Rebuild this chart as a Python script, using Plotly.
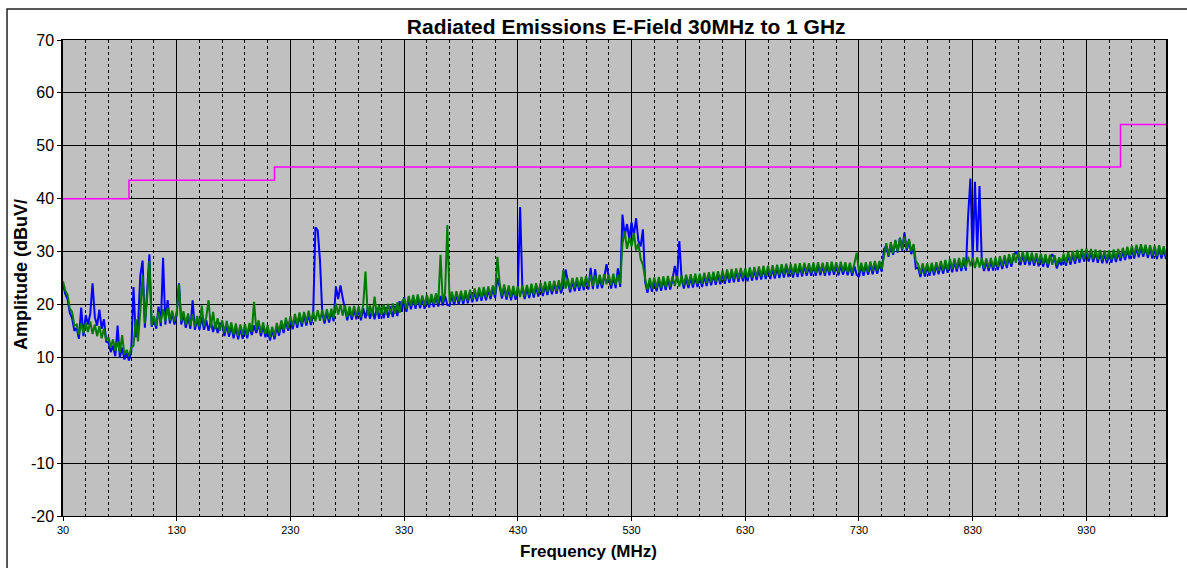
import plotly.graph_objects as go

# Sample grid (MHz), 2 MHz spacing
freq = list(range(30, 1001, 2))

# Green trace (dBuV/m)
green = [
    24.4, 22.6, 21.8, 19.2, 18.6, 16.0, 16.2, 14.3, 16.4, 14.6,
    16.5, 14.8, 16.8, 14.4, 16.2, 14.0, 15.9, 13.6, 15.4, 13.2,
    13.8, 11.9, 13.4, 11.2, 13.0, 10.9, 14.2, 10.5, 11.4, 10.2,
    11.8, 12.2, 17.2, 13.0, 18.8, 25.5, 16.4, 21.2, 28.2, 16.0,
    17.8, 16.0, 18.6, 16.6, 19.1, 16.8, 19.4, 17.0, 18.8, 16.8,
    18.6, 23.8, 16.8, 18.7, 16.2, 18.3, 16.0, 18.1, 15.8, 17.8,
    15.8, 19.8, 15.9, 17.6, 20.8, 15.6, 18.6, 15.3, 17.4, 15.0,
    17.0, 14.7, 16.9, 14.6, 16.6, 14.3, 16.4, 14.1, 16.2, 14.2,
    16.3, 14.2, 16.5, 14.8, 20.5, 15.2, 17.0, 14.6, 16.6, 14.4,
    16.1, 13.8, 15.8, 14.0, 16.5, 14.7, 17.0, 15.2, 17.5, 15.6,
    17.8, 15.9, 18.2, 16.2, 18.5, 16.4, 18.6, 16.6, 18.8, 16.7,
    18.6, 16.8, 18.9, 16.9, 19.0, 17.0, 19.1, 17.2, 19.2, 17.4,
    20.2, 18.1, 20.0, 17.9, 19.8, 17.6, 19.6, 17.7, 19.7, 17.8,
    19.6, 17.6, 19.9, 26.2, 17.9, 19.8, 17.8, 21.5, 18.0, 19.9,
    18.0, 20.0, 18.1, 20.1, 18.2, 20.2, 18.3, 20.4, 18.4, 20.5,
    21.1, 19.2, 21.6, 19.7, 21.8, 19.8, 21.9, 19.9, 21.7, 19.8,
    21.8, 20.0, 22.0, 20.1, 22.1, 20.2, 29.4, 20.4, 22.2, 35.0,
    20.4, 22.4, 20.5, 22.5, 20.6, 22.6, 20.7, 22.7, 20.8, 22.8,
    21.0, 23.0, 21.2, 23.2, 21.3, 23.3, 21.4, 23.4, 21.6, 23.6,
    21.8, 29.0, 24.0, 21.7, 23.8, 21.5, 23.6, 21.4, 23.5, 21.5,
    23.4, 21.4, 23.6, 21.6, 23.7, 21.8, 23.9, 21.9, 24.0, 22.1,
    24.1, 22.2, 24.3, 22.4, 24.4, 22.5, 24.5, 22.6, 24.6, 22.7,
    26.5, 23.0, 24.9, 22.9, 25.0, 23.1, 25.1, 23.2, 25.2, 23.3,
    25.4, 23.4, 25.6, 23.5, 25.5, 23.6, 25.6, 23.7, 25.7, 23.8,
    25.6, 23.6, 25.8, 23.7, 25.6, 23.9, 31.5, 33.8, 30.5, 32.6,
    31.0, 33.5, 30.2, 31.5, 28.6, 27.5, 24.8, 22.8, 25.0, 23.0,
    25.1, 23.1, 25.2, 23.2, 25.3, 23.3, 25.4, 23.4, 25.3, 23.5,
    25.4, 23.4, 25.5, 23.6, 25.6, 23.7, 25.7, 23.8, 25.8, 23.9,
    25.8, 23.9, 26.0, 24.1, 26.1, 24.2, 26.2, 24.3, 26.3, 24.4,
    26.4, 24.5, 26.6, 24.7, 26.7, 24.8, 26.8, 24.9, 26.9, 25.0,
    26.8, 25.0, 27.0, 25.1, 27.1, 25.2, 27.2, 25.3, 27.3, 25.4,
    27.3, 25.4, 27.4, 25.5, 27.5, 25.6, 27.6, 25.7, 27.7, 25.8,
    27.6, 25.7, 27.7, 25.8, 27.8, 25.9, 27.9, 26.0, 27.8, 26.0,
    27.9, 26.0, 28.0, 26.1, 27.9, 26.0, 28.0, 26.1, 28.1, 26.2,
    28.0, 26.1, 28.1, 26.2, 28.0, 26.1, 27.9, 26.0, 27.8, 29.8,
    26.0, 27.9, 26.1, 28.0, 26.2, 28.1, 26.3, 28.2, 26.4, 28.2,
    26.7, 29.5, 31.6, 29.2, 31.8, 29.6, 32.2, 30.0, 32.6, 30.4,
    32.8, 30.6, 32.4, 30.0, 31.4, 28.2, 27.6, 25.8, 27.8, 25.9,
    27.8, 26.0, 27.9, 26.1, 28.0, 26.3, 28.2, 26.4, 28.4, 26.6,
    28.6, 26.7, 28.7, 26.8, 28.8, 26.9, 28.9, 27.0, 29.0, 27.2,
    28.8, 26.9, 28.9, 27.0, 28.8, 26.9, 28.7, 26.9, 28.8, 27.0,
    28.9, 27.1, 29.1, 27.3, 29.3, 27.5, 29.5, 27.7, 29.7, 27.9,
    29.9, 28.0, 30.0, 28.1, 29.9, 28.0, 29.8, 27.9, 29.7, 27.8,
    29.6, 27.7, 29.5, 27.6, 29.4, 27.5, 29.3, 27.4, 28.9, 28.0,
    29.6, 27.9, 29.9, 28.1, 30.1, 28.3, 30.3, 28.5, 30.5, 28.7,
    30.6, 28.7, 30.5, 28.6, 30.4, 28.5, 30.3, 28.4, 30.2, 28.4,
    30.2, 28.5, 30.4, 28.6, 30.5, 28.8, 30.7, 29.0, 30.9, 29.2,
    31.1, 29.3, 31.3, 29.5, 31.4, 29.6, 31.3, 29.4, 31.2, 29.3,
    31.1, 29.2, 31.2, 29.3, 31.0, 29.2,
]

# Blue trace (dBuV/m)
blue = [
    23.8, 22.0, 21.0, 18.4, 17.4, 15.0, 15.6, 13.5, 19.4, 14.0,
    18.0, 16.2, 18.3, 24.0, 17.6, 16.0, 19.0, 15.4, 17.2, 13.0,
    12.8, 11.0, 12.2, 10.2, 16.0, 10.0, 11.8, 9.6, 10.8, 9.4,
    11.0, 23.3, 13.8, 16.2, 25.5, 28.3, 15.6, 22.0, 29.5, 15.8,
    17.2, 15.4, 19.6, 15.9, 28.8, 16.2, 20.8, 16.4, 18.4, 16.2,
    18.0, 24.0, 16.2, 18.1, 15.6, 17.7, 15.4, 20.8, 15.2, 17.2,
    15.2, 17.6, 15.2, 17.0, 15.0, 16.8, 14.8, 16.6, 14.6, 16.4,
    16.3, 14.0, 16.2, 13.9, 15.9, 13.6, 15.7, 13.4, 15.5, 13.5,
    15.6, 13.6, 15.9, 14.2, 16.0, 14.6, 16.4, 14.0, 16.0, 13.8,
    15.4, 13.2, 15.1, 13.4, 15.8, 14.1, 16.4, 14.6, 16.9, 15.0,
    17.2, 15.3, 17.6, 15.6, 17.9, 15.8, 18.0, 16.0, 18.2, 16.1,
    18.0, 34.6, 34.0, 28.3, 18.4, 16.4, 18.5, 16.6, 18.6, 16.8,
    23.4, 21.0, 23.6, 21.2, 19.2, 17.0, 19.0, 17.1, 19.1, 17.2,
    19.0, 17.0, 19.3, 17.4, 19.4, 17.3, 19.2, 17.2, 19.4, 17.3,
    19.4, 17.4, 19.5, 17.5, 19.6, 17.6, 19.7, 17.8, 20.6, 18.6,
    21.4, 18.6, 21.0, 19.1, 21.2, 19.2, 21.3, 19.3, 21.1, 19.2,
    21.2, 19.4, 21.4, 19.5, 21.5, 19.6, 21.6, 19.8, 21.6, 19.9,
    19.8, 21.8, 19.9, 21.9, 20.0, 22.0, 20.1, 22.1, 20.2, 22.2,
    20.4, 22.4, 20.6, 22.6, 20.7, 22.7, 20.8, 22.8, 21.0, 23.0,
    21.2, 25.0, 23.4, 21.1, 23.2, 20.9, 23.0, 20.8, 22.9, 20.9,
    22.8, 38.4, 23.0, 21.0, 23.1, 21.2, 23.3, 21.3, 23.4, 21.5,
    23.5, 21.6, 23.7, 21.8, 23.8, 21.9, 23.9, 22.0, 24.0, 22.1,
    23.6, 26.6, 24.3, 22.3, 24.4, 22.5, 24.5, 22.6, 24.6, 22.7,
    24.8, 22.8, 26.9, 22.9, 26.7, 23.0, 25.0, 23.1, 25.1, 27.6,
    25.0, 23.0, 25.2, 23.1, 26.8, 23.3, 37.0, 33.0, 35.2, 32.4,
    35.5, 33.0, 36.3, 32.0, 31.0, 34.2, 24.2, 22.2, 24.4, 22.4,
    24.5, 22.5, 24.6, 22.6, 24.7, 22.7, 24.8, 22.8, 24.7, 27.3,
    24.8, 32.0, 24.9, 23.0, 25.0, 23.1, 25.1, 23.2, 25.2, 23.3,
    25.2, 23.3, 25.4, 23.5, 25.5, 23.6, 25.6, 23.7, 25.7, 23.8,
    25.8, 23.9, 26.0, 24.1, 26.1, 24.2, 26.2, 24.3, 26.3, 24.4,
    26.2, 24.4, 26.4, 24.5, 26.5, 24.6, 26.6, 24.7, 26.7, 24.8,
    26.7, 24.8, 26.8, 24.9, 26.9, 25.0, 27.0, 25.1, 27.1, 25.2,
    27.0, 25.1, 27.1, 25.2, 27.2, 25.3, 27.3, 25.4, 27.2, 25.4,
    27.3, 25.4, 27.4, 25.5, 27.3, 25.4, 27.4, 25.5, 27.5, 25.6,
    27.4, 25.5, 27.5, 25.6, 27.4, 25.5, 27.3, 25.4, 27.2, 25.6,
    25.2, 27.3, 25.4, 27.4, 25.6, 27.5, 25.7, 27.6, 25.8, 27.6,
    26.2, 30.5, 31.0, 29.0, 31.4, 29.4, 32.0, 29.8, 32.6, 30.2,
    33.6, 30.2, 32.0, 29.5, 31.2, 26.8, 27.0, 25.2, 27.2, 25.3,
    27.2, 25.4, 27.3, 25.5, 27.4, 25.7, 27.6, 25.8, 27.8, 26.0,
    28.0, 26.1, 28.1, 26.2, 28.2, 26.3, 28.3, 26.4, 36.8, 43.8,
    28.6, 43.2, 30.0, 42.4, 28.2, 26.3, 28.1, 26.3, 28.2, 26.4,
    28.3, 26.5, 28.5, 26.7, 28.7, 26.9, 28.9, 27.1, 29.1, 30.0,
    29.3, 27.4, 29.4, 27.5, 29.3, 27.4, 29.2, 27.3, 29.1, 27.2,
    29.0, 27.1, 28.9, 27.0, 28.8, 29.5, 28.7, 26.8, 28.3, 27.4,
    29.0, 27.3, 29.3, 27.5, 29.5, 27.7, 29.7, 27.9, 29.9, 28.1,
    30.0, 28.1, 29.9, 28.0, 29.8, 27.9, 29.7, 27.8, 29.6, 27.8,
    29.6, 27.9, 29.8, 28.0, 29.9, 28.2, 30.1, 28.4, 30.3, 28.6,
    30.5, 28.7, 30.7, 28.9, 30.8, 29.0, 30.7, 28.8, 30.6, 28.7,
    30.5, 28.6, 30.6, 28.7, 30.4, 28.6,
]

# Limit line (step)
limit_freq = [30, 88, 216, 960, 1000]
limit_db = [40, 43.5, 46, 54, 54]

x_tick_start = 30
x_tick_step = 100
y_ticks = [-20, -10, 0, 10, 20, 30, 40, 50, 60, 70]
y_tick_labels = ["-20", "-10", "0", "10", "20", "30", "40", "50", "60", "70"]

FONT = "Arial, Liberation Sans, sans-serif"

fig = go.Figure()
fig.add_trace(go.Scatter(x=freq, y=blue, mode="lines",
                         line=dict(color="#0000FF", width=2), name="blue"))
fig.add_trace(go.Scatter(x=freq, y=green, mode="lines",
                         line=dict(color="#007A00", width=2), name="green"))
fig.add_trace(go.Scatter(x=limit_freq, y=limit_db, mode="lines",
                         line=dict(color="#FF00FF", width=1.5, shape="hv"), name="limit"))

fig.update_layout(
    width=1187, height=568,
    margin=dict(l=63, r=21, t=40, b=52),
    paper_bgcolor="white",
    plot_bgcolor="#C0C0C0",
    showlegend=False,
    font=dict(family=FONT, color="black"),
    title=dict(text="<b>Radiated Emissions E-Field 30MHz to 1 GHz</b>",
               x=(626.5 - 63) / 1103.5, xref="paper", xanchor="center",
               y=1 - 27 / 568, yref="container", yanchor="middle",
               font=dict(size=21, family=FONT, color="black")),
)

fig.update_xaxes(
    range=[30, 1000], tick0=x_tick_start, dtick=x_tick_step,
    showgrid=True, gridcolor="black", gridwidth=1,
    showline=True, linecolor="black", linewidth=1, mirror=True,
    ticks="outside", ticklen=4, tickcolor="black",
    tickfont=dict(size=11, family=FONT, color="black"),
    zeroline=False,
    minor=dict(tick0=x_tick_start, dtick=20, showgrid=True, gridcolor="black",
               gridwidth=1, griddash="3px,3px", ticks=""),
)
fig.update_yaxes(
    range=[-20, 70], tickmode="array", tickvals=y_ticks, ticktext=y_tick_labels,
    showgrid=True, gridcolor="black", gridwidth=1,
    showline=True, linecolor="black", linewidth=1.5, mirror=True,
    ticks="outside", ticklen=4, tickcolor="black",
    tickfont=dict(size=16, family=FONT, color="black"),
    zeroline=False,
)

fig.add_annotation(text="<b>Frequency (MHz)</b>", xref="paper", yref="paper",
                   x=(588.5 - 63) / 1103.5, y=(516 - 551) / 476,
                   xanchor="center", yanchor="middle",
                   showarrow=False, font=dict(size=17, family=FONT, color="black"))
fig.add_annotation(text="<b>Amplitude (dBuV/</b>", xref="paper", yref="paper",
                   x=(21 - 63) / 1103.5, y=(516 - 275) / 476, xanchor="center", yanchor="middle",
                   textangle=-90, showarrow=False,
                   font=dict(size=18, family=FONT, color="black"))

# Outer chart border
fig.add_shape(type="rect", xref="paper", yref="paper",
              x0=(7 - 63) / 1103.5, x1=(1192 - 63) / 1103.5,
              y0=(516 - 575) / 476, y1=(516 - 9) / 476,
              line=dict(color="#222222", width=1.5), layer="below")

fig.write_html("out.html")
